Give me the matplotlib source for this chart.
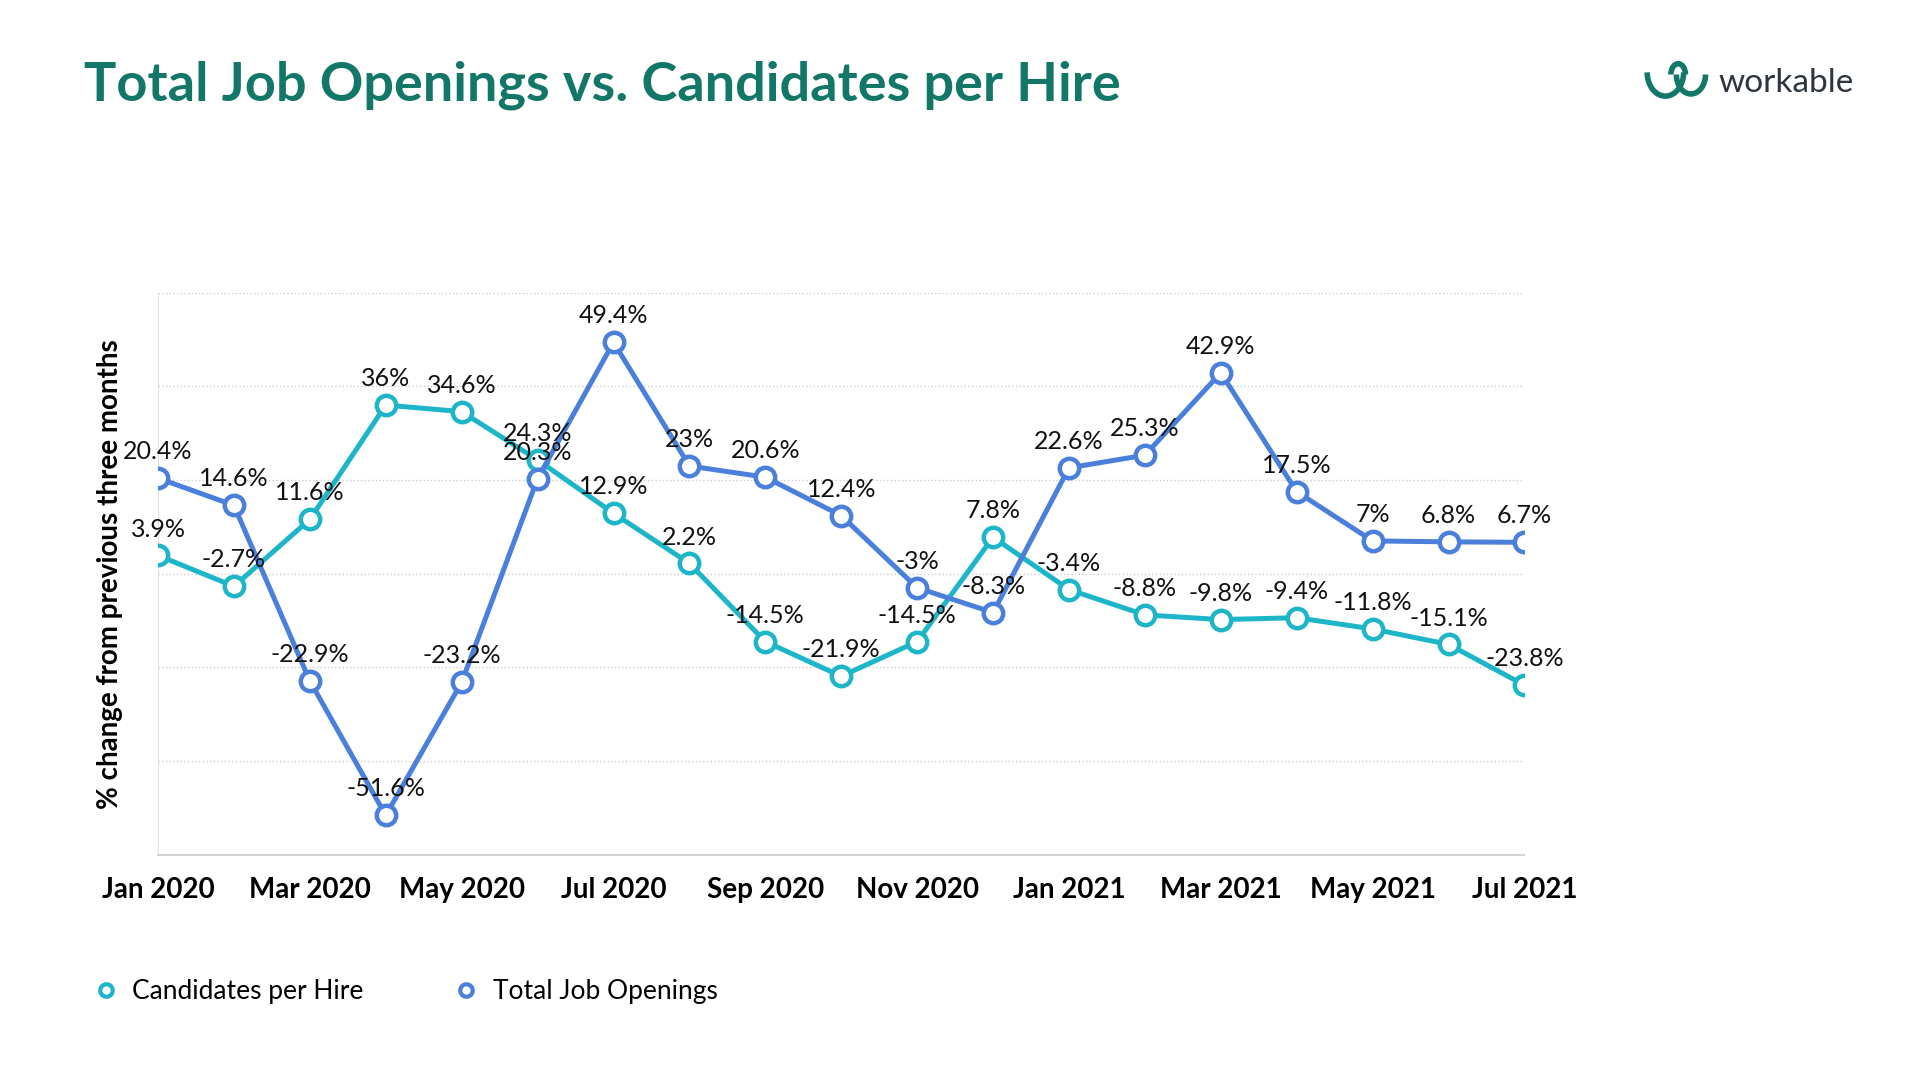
import matplotlib.pyplot as plt
from matplotlib.patches import Arc

months = ['Jan 2020', 'Feb 2020', 'Mar 2020', 'Apr 2020', 'May 2020', 'Jun 2020',
          'Jul 2020', 'Aug 2020', 'Sep 2020', 'Oct 2020', 'Nov 2020', 'Dec 2020',
          'Jan 2021', 'Feb 2021', 'Mar 2021', 'Apr 2021', 'May 2021', 'Jun 2021',
          'Jul 2021']
candidates = [3.9, -2.7, 11.6, 36, 34.6, 24.3, 12.9, 2.2, -14.5, -21.9, -14.5, 7.8,
              -3.4, -8.8, -9.8, -9.4, -11.8, -15.1, -23.8]
openings = [20.4, 14.6, -22.9, -51.6, -23.2, 20.3, 49.4, 23, 20.6, 12.4, -3, -8.3,
            22.6, 25.3, 42.9, 17.5, 7, 6.8, 6.7]

cyan = '#1db6c8'
blue = '#4a7fdc'
green = '#127766'

plt.rcParams['font.family'] = ['Lato', 'DejaVu Sans']

fig = plt.figure(figsize=(19.2, 10.8), dpi=100)
ax = fig.add_axes([0.0823, 0.2086, 0.7117, 0.5204])

x = list(range(len(months)))

def draw(vals, color, label):
    ax.plot(x, vals, color=color, lw=3.6, marker='o', ms=14, mfc='white',
            mec=color, mew=3.2, label=label, zorder=3)
    for i, v in zip(x, vals):
        ax.annotate('%g%%' % v, (i, v), xytext=(0, 19), textcoords='offset points',
                    ha='center', va='center', fontsize=18, color='#111111', zorder=4)

draw(candidates, cyan, 'Candidates per Hire')
draw(openings, blue, 'Total Job Openings')

ax.set_xlim(0, 18)
ax.set_ylim(-60, 60)
ax.set_yticks([-40, -20, 0, 20, 40, 60])
ax.set_yticklabels([])
ax.tick_params(axis='y', length=0)
ax.grid(axis='y', color='#cccccc', linestyle=':', lw=1)
ax.set_xticks(x[::2])
ax.set_xticklabels(months[::2], fontsize=20, fontweight='bold')
ax.tick_params(axis='x', length=0, pad=16)
for s in ['top', 'right']:
    ax.spines[s].set_visible(False)
ax.spines['left'].set_color('#e2e2e2')
ax.spines['bottom'].set_color('#d4d4d4')
ax.spines['bottom'].set_linewidth(1.5)
ax.set_ylabel('% change from previous three months', fontsize=20, fontweight='bold',
              labelpad=22)

fig.text(0.044, 0.921, 'Total Job Openings vs. Candidates per Hire', fontsize=39,
         fontweight='bold', color=green, va='center')

# legend
leg = fig.legend(loc='center left', bbox_to_anchor=(0.0385, 0.082), ncol=2, frameon=False,
                 fontsize=19, handlelength=0.6, columnspacing=3.6, handletextpad=0.7)
for h in leg.legend_handles:
    h.set_linestyle('none')
    h.set_markersize(9)
    h.set_markeredgewidth(3)

# logo
fig.text(0.895, 0.923, 'workable', fontsize=24, color='#2e3440', va='center')
lax = fig.add_axes([0.856, 0.905, 0.038, 0.04])
lax.set_xlim(0, 4)
lax.set_ylim(0, 2)
lax.axis('off')
lax.add_patch(Arc((1.2, 1.4), 2.0, 2.2, theta1=180, theta2=360, color=green, lw=4))
lax.add_patch(Arc((2.6, 1.3), 1.6, 1.8, theta1=180, theta2=360, color=green, lw=4))
lax.add_patch(Arc((1.9, 1.3), 0.8, 1.0, theta1=0, theta2=180, color=green, lw=4))

fig.savefig('out.png', dpi=100)
